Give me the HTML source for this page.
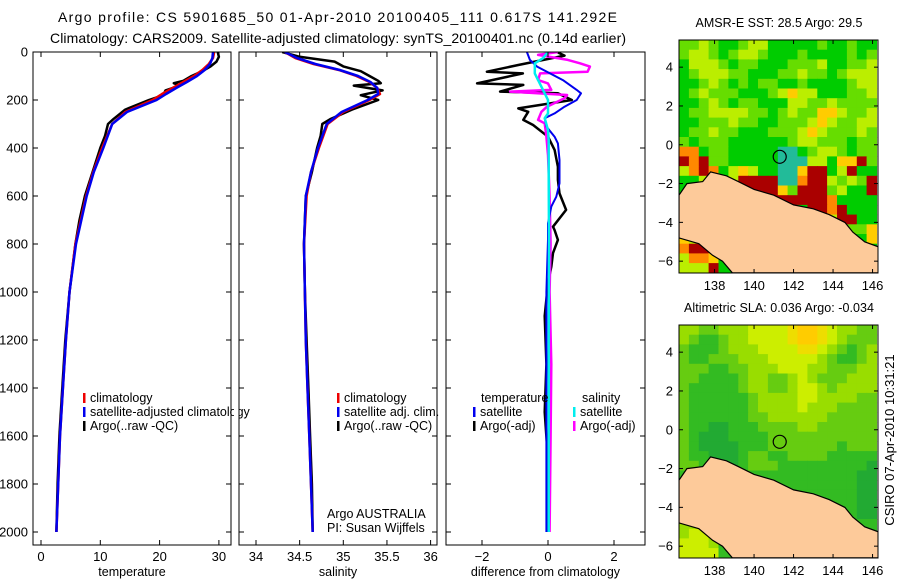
<!DOCTYPE html>
<html><head><meta charset="utf-8"><style>
html,body{margin:0;padding:0;background:#fff;}
svg{display:block;font-family:"Liberation Sans",sans-serif;}
</style></head><body>
<svg id="fig" width="900" height="580" viewBox="0 0 900 580" xmlns="http://www.w3.org/2000/svg">
<defs>
<clipPath id="c1"><rect x="33" y="52" width="198" height="493"/></clipPath>
<clipPath id="c2"><rect x="239" y="52" width="198" height="493"/></clipPath>
<clipPath id="c3"><rect x="446" y="52" width="199" height="493"/></clipPath>
<clipPath id="m1"><rect x="679" y="40" width="199" height="233"/></clipPath>
<clipPath id="m2"><rect x="679" y="325" width="199" height="233"/></clipPath>
</defs>
<text x="58" y="22" font-size="14" textLength="559" lengthAdjust="spacing">Argo profile: CS 5901685_50 01-Apr-2010 20100405_111 0.617S 141.292E</text>
<text x="50" y="43" font-size="14" textLength="576" lengthAdjust="spacing">Climatology: CARS2009. Satellite-adjusted climatology: synTS_20100401.nc (0.14d earlier)</text>
<text transform="translate(894,440) rotate(-90)" font-size="13" text-anchor="middle">CSIRO 07-Apr-2010 10:31:21</text>
</svg>
<script>
// ---- profile data ----
const climDepth = [0,25,50,75,100,125,150,175,200,250,300,400,500,600,800,1000,1200,1400,1600,1800,2000];
const climTemp  = [29.2,29.0,28.3,27.2,25.8,24.0,22.2,20.4,18.8,14.2,12.0,10.3,8.8,7.6,5.8,4.8,4.2,3.7,3.2,2.9,2.6];
const satTemp   = [29.0,28.9,28.5,27.6,26.3,24.6,22.8,21.1,19.5,14.5,12.0,10.5,8.9,7.7,5.9,4.8,4.2,3.7,3.2,2.9,2.6];
const argoDepth = [0,20,40,60,80,100,120,130,140,160,180,200,240,280,300,350,400,500,600,700,800,1000,1200,1400,1600,1800,2000];
const argoTemp  = [29.8,30.0,29.6,28.6,27.2,25.4,24.0,22.4,23.4,21.0,20.6,18.2,14.2,12.2,11.3,10.8,10.0,8.7,7.4,6.5,5.8,4.8,4.1,3.6,3.1,2.8,2.6];
const climSal   = [34.33,34.45,34.66,34.95,35.15,35.30,35.39,35.42,35.30,35.00,34.82,34.72,34.63,34.58,34.55,34.56,34.57,34.59,34.61,34.63,34.65];
const satSal    = [34.33,34.47,34.68,34.96,35.17,35.31,35.39,35.40,35.28,34.98,34.81,34.71,34.63,34.57,34.55,34.56,34.57,34.59,34.61,34.63,34.65];
const argoSal   = [34.30,34.50,34.90,35.00,35.20,35.30,35.40,35.43,35.12,35.45,35.20,35.40,35.10,34.85,34.76,34.74,34.70,34.64,34.57,34.56,34.55,34.56,34.58,34.60,34.62,34.64,34.65];
// ---- difference data ----
const dTaDepth = [0,15,54,82,89,131,137,165,172,200,235,249,283,304,353,408,478,533,589,658,728,742,783,838,895,963,1100,1300,1500,1700,2000];
const dTaVal   = [0.27,0.5,-0.9,-1.85,-0.76,-2.15,-0.75,-1.45,0.3,0.72,-0.9,-0.6,-0.75,-0.45,0.0,0.2,0.3,0.3,0.35,0.55,0.15,0.2,0.3,0.15,0.1,0.0,-0.1,-0.05,-0.1,0.0,0.0];
const dTsDepth = [0,33,61,89,117,158,172,200,228,256,276,311,353,381,450,547,603,644,714,783,1000,1500,2000];
const dTsVal   = [-0.64,-0.55,-0.33,0.06,0.45,0.87,1.0,0.87,0.5,0.2,-0.1,-0.05,0.2,0.3,0.35,0.35,0.25,0.1,0.0,0.0,-0.05,-0.05,-0.05];
const dSaDepth = [0,12,33,47,61,82,89,117,131,158,165,179,193,228,249,283,297,353,430,600,800,1000,1300,1600,2000];
const dSaVal   = [0.3,-0.3,0.6,0.97,1.27,1.2,-0.24,-0.3,0.0,0.1,-1.15,0.58,0.5,-0.03,-0.2,-0.3,-0.1,-0.05,0.0,0.05,0.08,0.05,0.1,0.08,0.05];
const dSsDepth = [0,26,47,89,117,158,200,256,276,325,367,500,800,1200,2000];
const dSsVal   = [0.0,-0.15,-0.4,-0.4,-0.3,-0.15,0.0,0.0,-0.1,0.0,0.02,0.02,0.03,0.02,0.02];
// ---- axis ticks ----
const depthTicks = [0,200,400,600,800,1000,1200,1400,1600,1800,2000];
const tempTicks = [0,10,20,30];
const salTicks = [34,34.5,35,35.5,36];
const diffTicks = [-2,0,2];
const latTicks = [4,2,0,-2,-4,-6];
const lonTicks = [138,140,142,144,146];
// ---- map data ----
const sstGrid = [
"11210012200000100100","12210122100010000101","02221011000111200112","01222110001121101222",
"00121010110010000122","01211100012322000112","00121011000221121111","01122221101211332112",
"00111211001112321122","01121100011123211121","10111000000122111011","44011000006601221011",
"54511000006662203351","24540232006635502500","00221255556645521215","01000055553155512005",
"00000000055555540000","00000000000005545000","00000000000000025500","00000000000000000113",
"32200000000000000003","45540000000000000000","24430000000000000000","22250000000000000000"];
const slaGrid = [
"33223334444566543322","32112334444566543222","21112333444455432123","21122233344444321123",
"22211223334443322233","22111123322343222333","21111123322344323333","21111112333344333322",
"21111112333343332222","21111112233333322222","21100111222233222222","21000111122222222222",
"21000011122222221222","21100012211222211111","22110012221111111110","11111111111111111100",
"11111111111111111100","11111111111111111100","11111111111111111100","11111111111111111100",
"33311111111111111111","34431111111111111111","44431111111111111111","44441111111111111111"];
const coastLon = [136.2,136.6,137.4,137.8,138.6,139.2,140.0,141.0,142.0,143.0,143.8,144.6,145.0,145.6,146.4,146.4,138.9,138.4,137.9,137.2,136.2];
const coastLat = [-2.6,-2.0,-1.9,-1.4,-1.6,-1.9,-2.3,-2.6,-3.1,-3.3,-3.6,-4.0,-4.5,-5.0,-5.3,-6.6,-6.6,-6.0,-5.7,-5.1,-4.8];
const argoLon = 141.3, argoLat = -0.62;

const sstColors = ["#00cc00","#66dd00","#bbee00","#ffcc00","#ff8800","#aa0000","#22bb99"];
const slaColors = ["#22aa33","#33bb22","#66cc11","#99dd00","#ccee00","#eedd00","#ffcc00"];

const NS="http://www.w3.org/2000/svg";
const svg=document.getElementById('fig');
function mk(tag,attrs,parent){const e=document.createElementNS(NS,tag);for(const k in attrs)e.setAttribute(k,attrs[k]);(parent||svg).appendChild(e);return e;}
function txt(x,y,s,size,anchor,parent){const t=mk('text',{x:x,y:y,'font-size':size,'text-anchor':anchor||'start'},parent);t.textContent=s;return t;}

const yD=d=>52+d*0.24;
const panels=[
 {x0:33,w:198,clip:'c1',sx:v=>41+v*5.93,ticks:tempTicks,title:'temperature',name:'temperature-panel'},
 {x0:239,w:198,clip:'c2',sx:v=>256+(v-34)*87.3,ticks:salTicks,title:'salinity',name:'salinity-panel'},
 {x0:446,w:199,clip:'c3',sx:v=>548+v*33,ticks:diffTicks,title:'difference from climatology',name:'difference-panel'}
];
function line(g,xs,ys,sx,color,w,dash,name){
  const pts=xs.map((v,i)=>sx(v).toFixed(1)+','+yD(ys[i]).toFixed(1)).join(' ');
  const p=mk('polyline',{points:pts,fill:'none',stroke:color,'stroke-width':w,'stroke-linejoin':'round'},g);
  if(dash)p.setAttribute('stroke-dasharray',dash);
  
  
}
function fmtTick(v){return (v<0?'\u2212':'')+Math.abs(v);}
panels.forEach((P,pi)=>{
  const g=mk('g',{});
  
  
  mk('rect',{x:P.x0,y:52,width:P.w,height:493,fill:'#fff'},g);
  const cg=mk('g',{'clip-path':'url(#'+P.clip+')'},g);
  if(pi==0){
    line(cg,argoTemp,argoDepth,P.sx,'#000',2.5,null,'argo-temperature-line');
    line(cg,climTemp,climDepth,P.sx,'#ee0000',2.5,null,'climatology-temperature-line');
    line(cg,satTemp,climDepth,P.sx,'#0000ee',2.5,null,'satellite-temperature-line');
  } else if(pi==1){
    line(cg,argoSal,argoDepth,P.sx,'#000',2.5,null,'argo-salinity-line');
    line(cg,climSal,climDepth,P.sx,'#ee0000',2.5,null,'climatology-salinity-line');
    line(cg,satSal,climDepth,P.sx,'#0000ee',2.5,null,'satellite-salinity-line');
  } else {
    line(cg,dTaVal,dTaDepth,P.sx,'#000',2.5,null,'argo-temperature-difference-line');
    line(cg,dSaVal,dSaDepth,P.sx,'#ff00ff',2.5,null,'argo-salinity-difference-line');
    line(cg,dTsVal,dTsDepth,P.sx,'#0000ee',2,null,'satellite-temperature-difference-line');
    line(cg,dSsVal,dSsDepth,P.sx,'#00eeee',2.5,null,'satellite-salinity-difference-line');
  }
  mk('rect',{x:P.x0,y:52,width:P.w,height:493,fill:'none',stroke:'#000','stroke-width':1},g);
  P.ticks.forEach(v=>{
    const x=P.sx(v);
    mk('line',{x1:x,y1:545,x2:x,y2:540,stroke:'#000'},g);
    mk('line',{x1:x,y1:52,x2:x,y2:57,stroke:'#000'},g);
    const t=txt(x,561,fmtTick(v),13,'middle',g);
    
    
  });
  depthTicks.forEach(d=>{
    mk('line',{x1:P.x0,y1:yD(d),x2:P.x0+5,y2:yD(d),stroke:'#000'},g);
    mk('line',{x1:P.x0+P.w,y1:yD(d),x2:P.x0+P.w-5,y2:yD(d),stroke:'#000'},g);
  });
  const at=txt(P.x0+P.w/2,576,P.title,12.5,'middle',g);
  
  
});
depthTicks.forEach(d=>{
  const t=txt(28,yD(d)+4.5,String(d),13,'end');
  
  
});
function legend(x,y,color,label,parent){
  const g=mk('g',{},parent);
  
  
  if(color)mk('rect',{x:x,y:y-9,width:2.5,height:10,fill:color},g);
  txt(x+7,y,label,12.5,'start',g);
}
const lg1=mk('g',{});
legend(83,402,'#ee0000','climatology',lg1);
legend(83,416,'#0000ee','satellite-adjusted climatology',lg1);
legend(83,430,'#000','Argo(..raw -QC)',lg1);
mk('rect',{x:234,y:380,width:5,height:60,fill:'#fff'});
mk('line',{x1:239,y1:380,x2:239,y2:440,stroke:'#000'});
mk('line',{x1:231,y1:380,x2:231,y2:440,stroke:'#000'});
const lg2=mk('g',{});
legend(337,402,'#ee0000','climatology',lg2);
legend(337,416,'#0000ee','satellite adj. clim.',lg2);
legend(337,430,'#000','Argo(..raw -QC)',lg2);
const cr=mk('g',{});
txt(327,518,'Argo AUSTRALIA',12.5,'start',cr);
txt(327,532,'PI: Susan Wijffels',12.5,'start',cr);
const lg3=mk('g',{});
txt(481,402,'temperature',12.5,'start',lg3);
legend(473,416,'#0000ee','satellite',lg3);
legend(473,430,'#000','Argo(-adj)',lg3);
txt(582,402,'salinity',12.5,'start',lg3);
legend(573,416,'#00eeee','satellite',lg3);
legend(573,430,'#ff00ff','Argo(-adj)',lg3);

// ---- maps ----
function drawMap(top,clip,grid,colors,title,titleLen,name){
  const mx=lon=>679+(lon-136.2)*19.75;
  const my=lat=>top+(5.4-lat)*19.4;
  const g=mk('g',{});
  
  
  const cg=mk('g',{'clip-path':'url(#'+clip+')'},g);
  const rows=grid.length, cols=grid[0].length;
  const cw=0.5, ch=12/rows;
  for(let r=0;r<rows;r++)for(let c=0;c<cols;c++){
    const lon0=136.2+c*cw, lat0=5.4-r*ch;
    const x=mx(lon0), y=my(lat0);
    const cell=mk('rect',{x:x.toFixed(1),y:y.toFixed(1),width:(mx(lon0+cw)-x+0.6).toFixed(1),height:(my(lat0-ch)-y+0.6).toFixed(1),fill:colors[+grid[r][c]]},cg);
    
    
  }
  const pts=coastLon.map((lo,i)=>mx(lo).toFixed(1)+','+my(coastLat[i]).toFixed(1)).join(' ');
  const land=mk('polygon',{points:pts,fill:'#fdca9a',stroke:'#000','stroke-width':1.2},cg);
  
  
  const c=mk('circle',{cx:mx(argoLon),cy:my(argoLat),r:6.5,fill:'none',stroke:'#000','stroke-width':1.2},g);
  
  
  mk('rect',{x:679,y:top,width:199,height:233,fill:'none',stroke:'#000'},g);
  latTicks.forEach(l=>{
    const y=my(l);
    mk('line',{x1:679,y1:y,x2:683,y2:y,stroke:'#000'},g);
    mk('line',{x1:878,y1:y,x2:874,y2:y,stroke:'#000'},g);
    const t=txt(673,y+4.5,fmtTick(l),13,'end',g);
    
    
  });
  lonTicks.forEach(l=>{
    const x=mx(l);
    mk('line',{x1:x,y1:top+233,x2:x,y2:top+229,stroke:'#000'},g);
    mk('line',{x1:x,y1:top,x2:x,y2:top+4,stroke:'#000'},g);
    const t=txt(x,top+250,String(l),13,'middle',g);
    
    
  });
  const tt=txt(779,top-13,title,12.5,'middle',g);
  tt.setAttribute('textLength',titleLen);
  tt.setAttribute('lengthAdjust','spacing');
  
  
}
drawMap(40,'m1',sstGrid,sstColors,'AMSR-E SST: 28.5 Argo: 29.5',167,'sst-map');
drawMap(325,'m2',slaGrid,slaColors,'Altimetric SLA: 0.036 Argo: -0.034',190,'sla-map');
</script>
</body></html>
